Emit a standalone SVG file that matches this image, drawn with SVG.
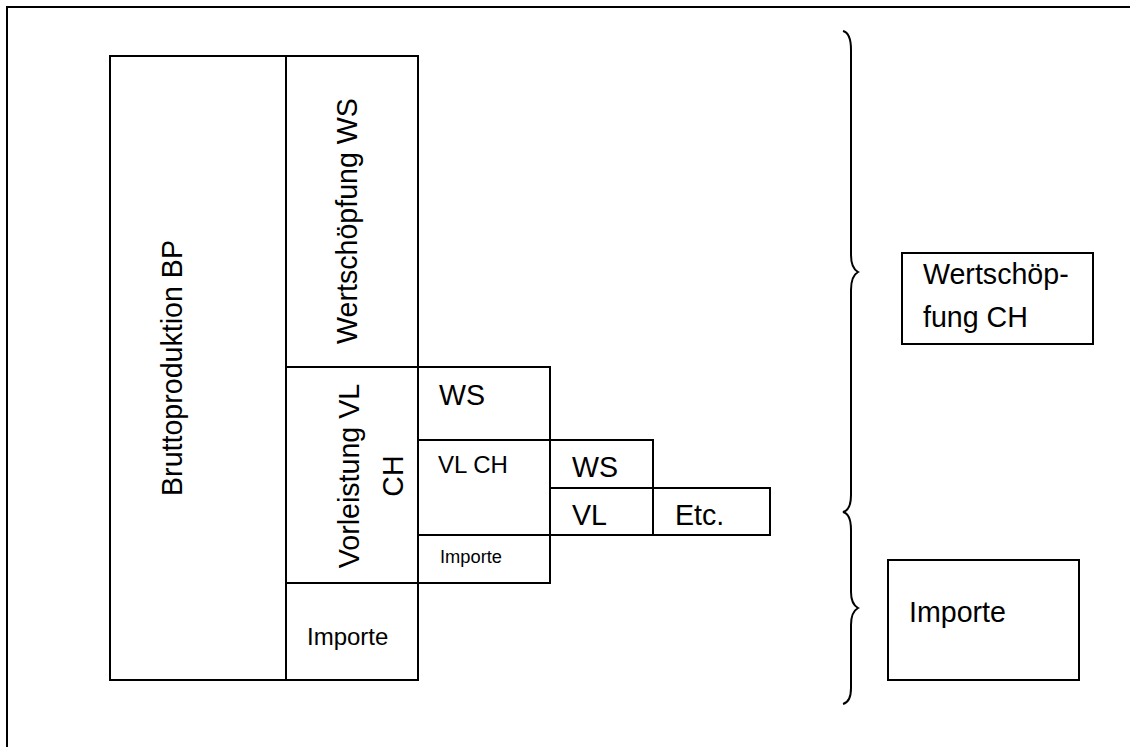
<svg xmlns="http://www.w3.org/2000/svg" width="1130" height="747" viewBox="0 0 1130 747">
<style>
.box{fill:#fff;stroke:#000;stroke-width:2}
.t{font-family:"Liberation Sans",Arial,sans-serif;fill:#000}
.big{font-size:28.6px}
.mid{font-size:24px}
.sm{font-size:18.3px}
.brace{fill:none;stroke:#000;stroke-width:2}
</style>
<rect x="0" y="0" width="1130" height="747" fill="#fff"/>
<rect x="7" y="7" width="1200" height="800" fill="none" stroke="#000" stroke-width="2"/>
<g id="bruttoproduktion">
<rect class="box" x="110" y="56" width="176" height="624"/>
<text class="t big" transform="translate(182,368) rotate(-90)" text-anchor="middle">Bruttoproduktion BP</text>
</g>
<g id="wertschoepfung-ws">
<rect class="box" x="286" y="56" width="132" height="311"/>
<text class="t big" transform="translate(357,221) rotate(-90)" text-anchor="middle">Wertschöpfung WS</text>
</g>
<g id="vorleistung">
<rect class="box" x="286" y="367" width="132" height="216"/>
<text class="t big" transform="translate(359,476) rotate(-90)" text-anchor="middle">Vorleistung VL</text>
<text class="t big" transform="translate(403,476) rotate(-90)" text-anchor="middle">CH</text>
</g>
<g id="importe-left">
<rect class="box" x="286" y="583" width="132" height="97"/>
<text class="t mid" x="307" y="645">Importe</text>
</g>
<g id="ws-2">
<rect class="box" x="418" y="367" width="132" height="73"/>
<text class="t big" x="439" y="405">WS</text>
</g>
<g id="vlch-2">
<rect class="box" x="418" y="440" width="132" height="95"/>
<text class="t mid" x="438" y="473">VL CH</text>
</g>
<g id="importe-2">
<rect class="box" x="418" y="535" width="132" height="48"/>
<text class="t sm" x="440" y="563">Importe</text>
</g>
<g id="ws-3">
<rect class="box" x="550" y="440" width="103" height="48"/>
<text class="t big" x="572" y="477">WS</text>
</g>
<g id="vl-3">
<rect class="box" x="550" y="488" width="103" height="47"/>
<text class="t big" x="572" y="525">VL</text>
</g>
<g id="etc">
<rect class="box" x="653" y="488" width="117" height="47"/>
<text class="t big" x="675" y="525">Etc.</text>
</g>
<g id="connectors">
<path class="brace" d="M843,31 Q851,33 851,50 L851,255 Q851,268 858,272 Q851,276 851,290 L851,495 Q851,510 843,512 Q851,514 851,530 L851,592 Q851,604 858,608 Q851,612 851,625 L851,688 Q851,702 843,704"/>
</g>
<g id="wertschoepfung-ch">
<rect class="box" x="902" y="253" width="191" height="91"/>
<text class="t big" x="923" y="284">Wertschöp-</text>
<text class="t big" x="923" y="327">fung CH</text>
</g>
<g id="importe-right">
<rect class="box" x="888" y="560" width="191" height="120"/>
<text class="t big" x="909" y="622">Importe</text>
</g>
</svg>
